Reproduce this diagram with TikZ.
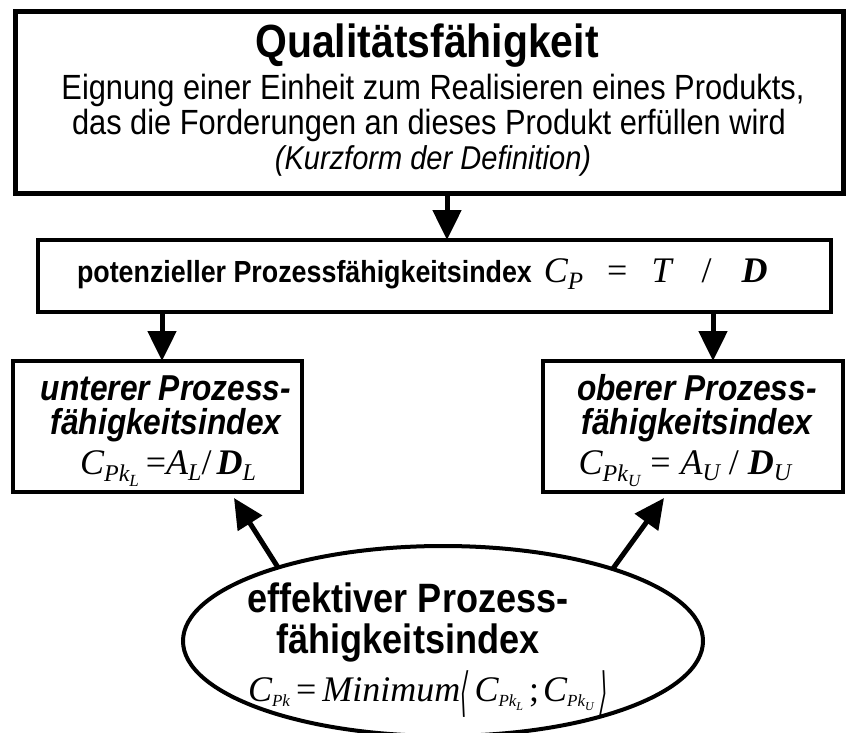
\documentclass[tikz,border=0pt]{standalone}
\usepackage{fontspec}
\setmainfont[FakeStretch=0.88]{Liberation Sans}
\newfontfamily\tnr{Liberation Serif}
\newfontfamily\djv{DejaVu Sans}
\usetikzlibrary{arrows.meta,shapes.geometric}
% font size in one go
\newcommand\fsz[1]{\fontsize{#1}{#1}\selectfont}
% lowered index: depth, size, text
\newcommand\ix[3]{\raisebox{-#1}{\fsz{#2}#3}}
% thin, tall angle brackets
\newcommand\lang{\raisebox{-9pt}{\scalebox{0.7}[1.75]{\djv\fsz{30}\char"27E8}}}
\newcommand\rang{\raisebox{-9pt}{\scalebox{0.7}[1.75]{\djv\fsz{30}\char"27E9}}}
\begin{document}
\begin{tikzpicture}[x=1pt,y=-1pt,
  every node/.style={inner sep=0pt,outer sep=0pt},
  heavybox/.style={draw,line width=5pt,rectangle},
  thinbox/.style={draw,line width=3.5pt,rectangle},
  txt/.style={anchor=base,align=center},
  arr/.style={line width=5pt,-{Triangle[length=30pt,width=28pt]}}]
\useasboundingbox (0,0) rectangle (846,733);

% boxes
\node[heavybox,minimum width=828pt,minimum height=181pt] (top) at (429,102.5) {};
\node[thinbox,minimum width=793pt,minimum height=72pt] (mid) at (434.5,276) {};
\node[thinbox,minimum width=289pt,minimum height=131pt] (lbox) at (157.5,426.5) {};
\node[thinbox,minimum width=300pt,minimum height=131pt] (rbox) at (693,426.5) {};
\node[draw,line width=4pt,ellipse,minimum width=520pt,minimum height=190pt] (ell) at (443,641) {};

% texts of the definition box
\node[txt] (t1) at (427,58) {\fsz{46.5}\bfseries Qualitätsfähigkeit};
\node[txt] (t2) at (433,100) {\fsz{35}Eignung einer Einheit zum Realisieren eines Produkts,};
\node[txt] (t3) at (429,135) {\fsz{35}das die Forderungen an dieses Produkt erfüllen wird};
\node[txt] (t4) at (433,170) {\fsz{33}\itshape (Kurzform der Definition)};

% potential index
\node[txt,anchor=base west] (m1) at (77,282) {\fsz{30.5}\bfseries potenzieller Prozessfähigkeitsindex\hspace{12pt}%
  {\tnr\fsz{36}\mdseries\itshape C\ix{7pt}{25}{P}\hspace{24pt}\upshape=\hspace{24pt}\itshape T\hspace{30pt}\upshape/\hspace{30pt}\bfseries\itshape D}};

% lower index
\node[txt] (l1) at (166,400) {\fsz{36}\bfseries\itshape unterer Prozess-};
\node[txt] (l2) at (166,434) {\fsz{36}\bfseries\itshape fähigkeitsindex};
\node[txt] (l3) at (168,474) {\tnr\fsz{36}\itshape C\ix{7pt}{24}{Pk\ix{5pt}{17}{L}}\hspace{7pt}\upshape=\itshape A\ix{6pt}{24}{L}\upshape/\hspace{5pt}{\bfseries\itshape D}\itshape\ix{6pt}{24}{L}};

% upper index
\node[txt] (r1) at (697,400) {\fsz{36}\bfseries\itshape oberer Prozess-};
\node[txt] (r2) at (697,434) {\fsz{36}\bfseries\itshape fähigkeitsindex};
\node[txt] (r3) at (685,474) {\tnr\fsz{36}\itshape C\ix{7pt}{24}{Pk\ix{5pt}{17}{U}}\hspace{10pt}\upshape=\hspace{10pt}\itshape A\ix{6pt}{24}{U}\hspace{9pt}\upshape/\hspace{9pt}{\bfseries\itshape D}\itshape\ix{6pt}{24}{U}};

% effective index
\node[txt] (e1) at (408,612) {\fsz{41}\bfseries effektiver Prozess-};
\node[txt] (e2) at (408,653) {\fsz{41}\bfseries fähigkeitsindex};
\node[txt] (e3) at (428,701) {\tnr\fsz{36}\itshape C\ix{5pt}{17}{Pk}\hspace{6pt}\upshape=\hspace{6pt}\itshape Minimum\lang\hspace{6pt}C\ix{5pt}{17}{Pk\ix{4pt}{12}{L}}\hspace{6pt}\upshape;\hspace{4pt}\itshape C\ix{5pt}{17}{Pk\ix{4pt}{12}{U}}\hspace{6pt}\rang};

% connectors
\coordinate (lt) at (234,498);
\coordinate (rt) at (664,498);
\draw[arr] ([xshift=18pt]top.south) -- ([xshift=18pt]top.south |- mid.north);
\draw[arr] ([xshift=4.5pt]lbox.north |- mid.south) -- ([xshift=4.5pt]lbox.north);
\draw[arr] ([xshift=20pt]rbox.north |- mid.south) -- ([xshift=20pt]rbox.north);
\draw[arr] (ell.156) -- (lt);
\draw[arr] (ell.23) -- (rt);
\end{tikzpicture}
\end{document}
